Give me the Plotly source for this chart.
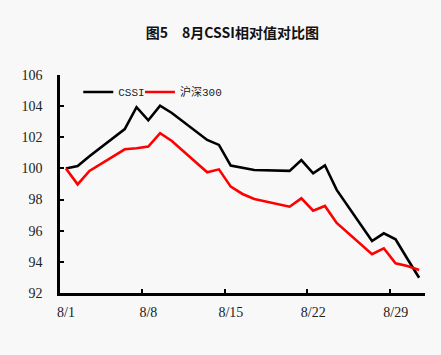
import plotly.graph_objects as go

dates = ["2018-08-01", "2018-08-02", "2018-08-03", "2018-08-06", "2018-08-07",
         "2018-08-08", "2018-08-09", "2018-08-10", "2018-08-13", "2018-08-14",
         "2018-08-15", "2018-08-16", "2018-08-17", "2018-08-20", "2018-08-21",
         "2018-08-22", "2018-08-23", "2018-08-24", "2018-08-27", "2018-08-28",
         "2018-08-29", "2018-08-30", "2018-08-31"]
cssi = [100.0, 100.15, 100.78, 102.53, 103.93, 103.09, 104.03, 103.56, 101.83, 101.51,
        100.18, 100.06, 99.9, 99.84, 100.54, 99.69, 100.2, 98.62, 95.34, 95.83,
        95.45, 94.2, 92.98]
hs300 = [100.0, 98.98, 99.84, 101.23, 101.3, 101.4, 102.26, 101.76, 99.75, 99.94,
         98.83, 98.36, 98.04, 97.54, 98.08, 97.29, 97.59, 96.5, 94.49, 94.87,
         93.91, 93.73, 93.48]
y_ticks = [92, 94, 96, 98, 100, 102, 104, 106]
x_ticks = ["2018-08-01", "2018-08-08", "2018-08-15", "2018-08-22", "2018-08-29"]
x_labels = ["8/1", "8/8", "8/15", "8/22", "8/29"]

fig = go.Figure()
fig.add_trace(go.Scatter(x=dates, y=cssi, name="CSSI", mode="lines",
                         line=dict(color="#000000", width=2.6), legend="legend",
                         xperiod=86400000, xperiodalignment="middle"))
fig.add_trace(go.Scatter(x=dates, y=hs300, name="沪深300", mode="lines",
                         line=dict(color="#ff0000", width=2.6), legend="legend2",
                         xperiod=86400000, xperiodalignment="middle"))

tick_font = dict(family="Liberation Serif", size=14, color="#222222")
legend_font = dict(family="Liberation Mono, Noto Sans CJK SC", size=11, color="#222222")
fig.update_layout(
    width=441, height=355,
    paper_bgcolor="#f8f8f8", plot_bgcolor="#f8f8f8",
    margin=dict(l=60, r=16, t=75, b=62),
    title=dict(text="<b>图5　8月CSSI相对值对比图</b>", x=0.527, xanchor="center",
               y=1 - 33 / 355, yanchor="middle",
               font=dict(family="Noto Sans CJK SC", size=14, color="#111111")),
    showlegend=True,
    legend=dict(orientation="h", x=0.05, y=0.922, xanchor="left", yanchor="middle",
                bgcolor="rgba(0,0,0,0)", font=legend_font, itemwidth=30),
    legend2=dict(orientation="h", x=0.219, y=0.922, xanchor="left", yanchor="middle",
                 bgcolor="rgba(0,0,0,0)", font=legend_font, itemwidth=30),
)
fig.update_xaxes(type="date", range=["2018-08-01", "2018-09-01"],
                 tickvals=x_ticks, ticktext=x_labels, ticklabelshift=6,
                 ticklabelstandoff=4,
                 ticks="inside", ticklen=4, tickwidth=1.5, tickcolor="#000",
                 showline=True, linecolor="#000", linewidth=2.6,
                 showgrid=False, zeroline=False, tickfont=tick_font)
fig.update_yaxes(range=[92, 106], tickvals=y_ticks,
                 ticks="inside", ticklen=4, tickwidth=1.5, tickcolor="#000",
                 showline=True, linecolor="#000", linewidth=2.6,
                 showgrid=False, zeroline=False, tickfont=tick_font,
                 ticklabelstandoff=12)
fig.write_html("out.html")
